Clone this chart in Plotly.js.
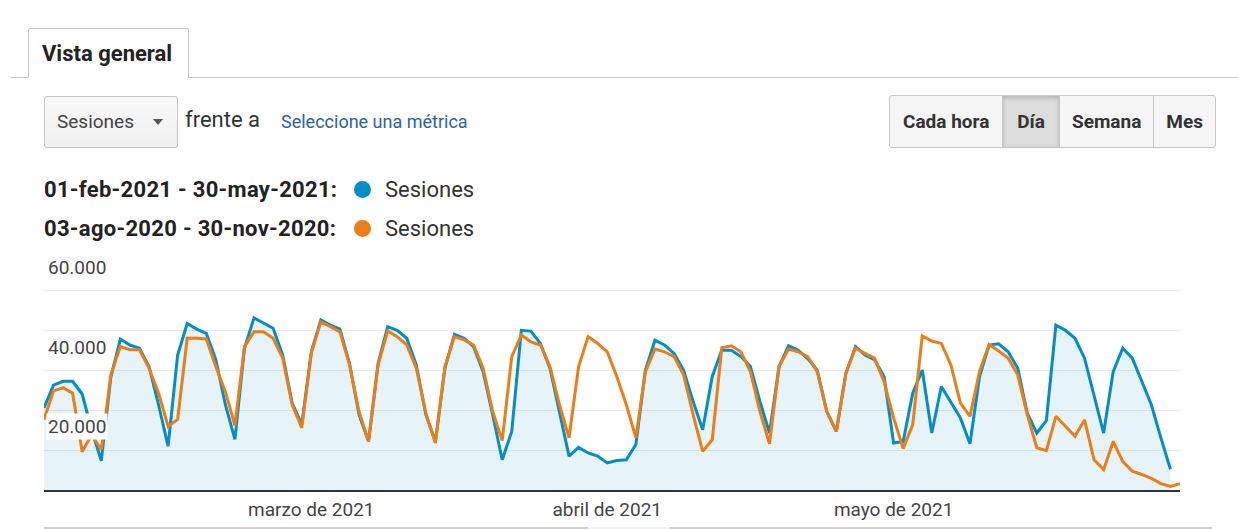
<!DOCTYPE html>
<html>
<head>
<meta charset="utf-8">
<script src="https://cdn.plot.ly/plotly-3.0.1.min.js"></script>
<style>
  html, body { margin:0; padding:0; background:#fff; width:1238px; height:529px; overflow:hidden; font-family: Roboto, Arial, sans-serif; }
  #plot { position:absolute; left:0; top:0; width:1238px; height:529px; }
  .ui { position:absolute; z-index:5; white-space:nowrap; }
  .tabline { position:absolute; left:11px; top:77px; width:1227px; height:1px; background:#c8c8c8; z-index:4; }
  .tab { left:28px; top:28px; width:161px; height:50px; border:1px solid #c8c8c8; border-bottom:none; border-radius:3px 3px 0 0; background:#fff; box-sizing:border-box; }
  .tab span { position:absolute; left:13px; top:12px; font-weight:bold; font-size:22px; color:#222; }
  .dd { left:44px; top:96px; width:134px; height:52px; border:1px solid #c6c6c6; border-radius:3px; background:linear-gradient(#f9f9f9,#f0f0f0); box-sizing:border-box; }
  .dd span { position:absolute; left:12px; top:13px; font-size:19px; color:#444; }
  .dd i { position:absolute; left:108px; top:22px; width:0; height:0; border-left:5px solid transparent; border-right:5px solid transparent; border-top:6px solid #555; }
  .btns { left:889px; top:95px; width:327px; height:53px; border:1px solid #c6c6c6; border-radius:3px; box-sizing:border-box; overflow:hidden; display:flex; background:#f6f6f6; }
  .btns div { height:100%; display:flex; align-items:center; justify-content:center; font-weight:bold; font-size:19px; color:#333; box-sizing:border-box; }
  .btns div + div { border-left:1px solid #c6c6c6; }
  .btns .sel { background:#dcdcdc; box-shadow: inset 0 2px 4px rgba(0,0,0,0.18); }
  .leg { font-size:22px; color:#222; }
  .leg b { font-weight:bold; letter-spacing:0.3px; }
  .dot { position:absolute; width:17px; height:17px; border-radius:50%; z-index:5; }
</style>
</head>
<body>
<div id="plot"></div>
<div class="tabline"></div>
<div class="ui tab"><span>Vista general</span></div>
<div class="ui dd"><span>Sesiones</span><i></i></div>
<div class="ui" style="left:185px; top:107px; font-size:22px; color:#333;">frente a</div>
<div class="ui" style="left:281px; top:111px; font-size:18px; color:#2b62a8;">Seleccione una métrica</div>
<div class="ui btns">
  <div style="width:113px">Cada hora</div>
  <div class="sel" style="width:57px">Día</div>
  <div style="width:95px">Semana</div>
  <div style="width:62px">Mes</div>
</div>
<div class="ui leg" style="left:44px; top:177px;"><b>01-feb-2021 - 30-may-2021:</b></div>
<div class="dot" style="left:354px; top:181px; background:#058dc7;"></div>
<div class="ui leg" style="left:385px; top:177px; color:#333;">Sesiones</div>
<div class="ui leg" style="left:44px; top:216px;"><b>03-ago-2020 - 30-nov-2020:</b></div>
<div class="dot" style="left:354px; top:220px; background:#ed7e17;"></div>
<div class="ui leg" style="left:385px; top:216px; color:#333;">Sesiones</div>
<div class="ui" style="left:44px; top:527px; width:1168px; height:2px; background:#cfcfcf;"></div>
<div class="ui" style="left:588px; top:527px; width:82px; height:2px; background:#f2f2f2;"></div>
<script>
// Current period: 01-feb-2021 .. 30-may-2021 (daily sessions)
const startDate = '2021-02-01';
const sesionesActual = [
  20600, 26300, 27300, 27300, 24100, 15000, 7300,
  28300, 37900, 36400, 35600, 31000, 21400, 11000,
  33900, 41800, 40400, 39300, 32700, 21400, 12700,
  35600, 43200, 41800, 40600, 33900, 21800, 16400,
  34700, 42700, 41400, 40400, 31800, 18900, 12200,
  31800, 41000, 40100, 38100, 31400, 18900, 12200,
  30600, 39100, 38100, 36000, 29700, 18900, 7600,
  14700, 40100, 39900, 36800, 30600, 19700, 8500,
  10700, 9300, 8500, 6800, 7400, 7600, 11400,
  30100, 37600, 36400, 34300, 30100, 22200, 15100,
  28500, 35100, 35100, 33500, 31000, 22200, 14300,
  31000, 36200, 35100, 33000, 30100, 19700, 14700,
  29300, 36000, 33900, 32700, 28500, 11800, 12200,
  24300, 30100, 14300, 26000, 22200, 18100, 11600,
  28500, 36400, 36700, 34700, 30600, 19300, 14300,
  17400, 41400, 40100, 38100, 33100, 23900, 14300,
  29700, 35600, 33100, 27200, 21400, 13100, 5200
];
// Comparison period: 03-ago-2020 .. 30-nov-2020 (aligned day by day)
const sesionesAnterior = [
  17700, 24900, 25700, 24300, 9600, 13900, 10100,
  28900, 36000, 35200, 35200, 30600, 24300, 16000,
  17700, 38100, 38100, 37900, 31000, 24700, 16200,
  36000, 39700, 39700, 38100, 33100, 21400, 15600,
  34300, 42200, 41000, 39700, 31400, 19700, 12200,
  31400, 39900, 38500, 36400, 30600, 19300, 11800,
  31000, 38500, 37700, 36400, 30600, 19700, 12400,
  33500, 38900, 37200, 36400, 31000, 21400, 13100,
  31000, 38500, 36800, 34700, 28500, 21400, 13100,
  29700, 35400, 34700, 33500, 28900, 18900, 9700,
  12600, 35700, 36200, 34700, 29700, 19700, 11600,
  31000, 35400, 34700, 33500, 29700, 19700, 14700,
  29300, 35600, 34300, 33100, 27200, 18100, 10400,
  16400, 38700, 37400, 36800, 31400, 21800, 18500,
  29700, 36500, 34900, 33100, 28900, 18900, 10600,
  9900, 18500, 16000, 13500, 17600, 7600, 5100,
  12200, 7200, 4700, 3900, 2900, 1600, 900,
  1600
];
const monthTickDates = ['2021-03-01', '2021-04-01', '2021-05-01'];
const monthTickLabels = ['marzo de 2021', 'abril de 2021', 'mayo de 2021'];
const yLabelValues = [20000, 40000, 60000];
const yLabelTexts = ['20.000', '40.000', '60.000'];

function dayList(start, n) {
  const p = start.split('-').map(Number);
  const out = [];
  for (let i = 0; i < n; i++) {
    const d = new Date(Date.UTC(p[0], p[1] - 1, p[2] + i));
    out.push(d.toISOString().slice(0, 10));
  }
  return out;
}
const xActual = dayList(startDate, sesionesActual.length);
const xAnterior = dayList(startDate, sesionesAnterior.length);

const traces = [
  {
    x: xActual, y: sesionesActual, type: 'scatter', mode: 'lines',
    name: '01-feb-2021 - 30-may-2021: Sesiones',
    line: { color: '#058dc7', width: 3, shape: 'linear' },
    fill: 'tozeroy', fillcolor: 'rgba(5,141,199,0.1)'
  },
  {
    x: xAnterior, y: sesionesAnterior, type: 'scatter', mode: 'lines',
    name: '03-ago-2020 - 30-nov-2020: Sesiones',
    line: { color: '#ed7e17', width: 3, shape: 'linear' }
  }
];

const annotations = yLabelValues.map((v, k) => ({
  x: 0, xref: 'paper', xanchor: 'left', xshift: 2,
  y: v, yref: 'y', yanchor: 'top', yshift: -3,
  text: yLabelTexts[k], showarrow: false,
  font: { family: 'Roboto, Arial, sans-serif', size: 19, color: '#444' },
  bgcolor: '#ffffff', borderpad: 1
}));

const layout = {
  width: 1238, height: 529,
  margin: { l: 44, r: 58, t: 251, b: 39, pad: 0 },
  paper_bgcolor: 'rgba(0,0,0,0)', plot_bgcolor: '#ffffff',
  showlegend: false,
  font: { family: 'Roboto, Arial, sans-serif', color: '#444' },
  xaxis: {
    type: 'date', range: ['2021-02-01', '2021-05-31'],
    tickmode: 'array', tickvals: monthTickDates, ticktext: monthTickLabels,
    showgrid: false, zeroline: false, ticks: '',
    showline: true, linecolor: '#333', linewidth: 2,
    tickfont: { size: 19, color: '#444' }, ticklabelstandoff: 1
  },
  yaxis: {
    range: [0, 60000], dtick: 10000, tick0: 0,
    showgrid: true, gridcolor: '#ebebeb', gridwidth: 1,
    zeroline: false, showticklabels: false, ticks: '', showline: false
  },
  annotations: annotations
};

Plotly.newPlot('plot', traces, layout, { staticPlot: true, displayModeBar: false });
</script>
</body>
</html>
